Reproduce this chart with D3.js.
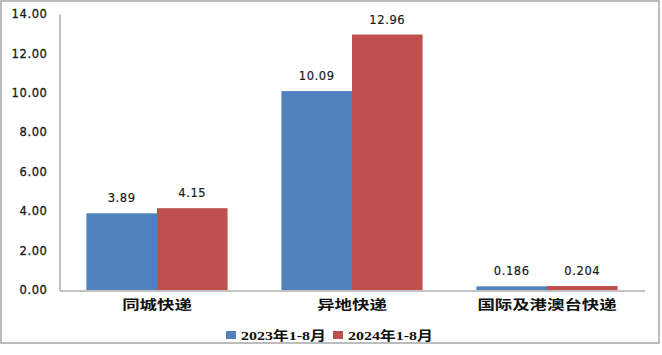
<!DOCTYPE html>
<html><head><meta charset="utf-8">
<script src="https://d3js.org/d3.v7.min.js"></script>
<style>body{margin:0;background:#fff}svg{display:block}</style>
</head><body>
<script>
const categories = ["同城快递", "异地快递", "国际及港澳台快递"];
const seriesNames = ["2023年1-8月", "2024年1-8月"];
const values2023 = [3.89, 10.09, 0.186];
const values2024 = [4.15, 12.96, 0.204];
const yTicks = [0, 2, 4, 6, 8, 10, 12, 14];
const colors = ["#4F81BD", "#C0504D"];

const W = 662, H = 355;
const svg = d3.select("body").append("svg").attr("width", W).attr("height", H);
svg.append("rect").attr("x", 1).attr("y", 1).attr("width", 658).attr("height", 342)
  .attr("fill", "#fff").attr("stroke", "#a6a6a6").attr("stroke-width", 1.5);

const x0 = d3.scaleBand().domain(categories).range([59.5, 644.5]).padding(0);
const x1 = d3.scaleBand().domain(seriesNames).range([x0.bandwidth()*0.138, x0.bandwidth()*0.862]).padding(0);
const y = d3.scaleLinear().domain([0, 14]).range([290, 14]);

const data = categories.map((c, i) => ({cat: c, vals: [values2023[i], values2024[i]]}));

const g = svg.append("g");
const groups = g.selectAll("g.cat").data(data).join("g")
  .attr("transform", d => `translate(${x0(d.cat)},0)`);
groups.selectAll("rect").data(d => d.vals.map((v, j) => ({v, s: seriesNames[j], j})))
  .join("rect")
  .attr("x", d => x1(d.s)).attr("width", x1.bandwidth())
  .attr("y", d => y(d.v)).attr("height", d => y(0) - y(d.v))
  .attr("fill", d => colors[d.j]);
groups.selectAll("text").data(d => d.vals.map((v, j) => ({v, s: seriesNames[j], j})))
  .join("text")
  .attr("x", d => x1(d.s) + x1.bandwidth()/2)
  .attr("y", d => y(d.v) - 11)
  .attr("text-anchor", "middle")
  .attr("font-family", "DejaVu Sans, Verdana, sans-serif")
  .attr("font-size", 11.5).attr("letter-spacing", 0.6)
  .attr("fill", "#1a1a1a").attr("stroke", "#1a1a1a").attr("stroke-width", 0.2)
  .text(d => String(d.v));

// y axis
const yAxis = d3.axisLeft(y).tickValues(yTicks).tickSize(0).tickPadding(12).tickFormat(d3.format(".2f"));
const ya = svg.append("g").attr("transform", "translate(59.5,0)").call(yAxis);
ya.select(".domain").attr("stroke", "#868686");
ya.selectAll("text").attr("font-family", "DejaVu Sans, Verdana, sans-serif")
  .attr("font-size", 11.5).attr("letter-spacing", 0.6).attr("fill", "#1a1a1a")
  .attr("stroke", "#1a1a1a").attr("stroke-width", 0.3);

// x axis
const xAxis = d3.axisBottom(x0).tickSize(0).tickPadding(9);
const xa = svg.append("g").attr("transform", "translate(0,290.5)").call(xAxis);
xa.select(".domain").attr("stroke", "#868686");
xa.selectAll("text").attr("font-family", "Noto Sans CJK SC, sans-serif")
  .attr("font-size", 13).attr("font-weight", "bold").attr("fill", "#111")
  .attr("textLength", d => d.length * 17.4).attr("lengthAdjust", "spacingAndGlyphs");

// legend
const leg = svg.append("g");
const legX = [226, 333];
seriesNames.forEach((s, i) => {
  leg.append("rect").attr("x", legX[i]).attr("y", 331).attr("width", 10).attr("height", 8).attr("fill", colors[i]);
  leg.append("text").attr("x", legX[i] + 15).attr("y", 340)
    .attr("font-family", "Liberation Serif, Noto Sans CJK SC, serif")
    .attr("font-size", 13).attr("font-weight", "bold").attr("fill", "#111")
    .attr("textLength", 85).attr("lengthAdjust", "spacingAndGlyphs").text(s);
});
</script>
</body></html>
